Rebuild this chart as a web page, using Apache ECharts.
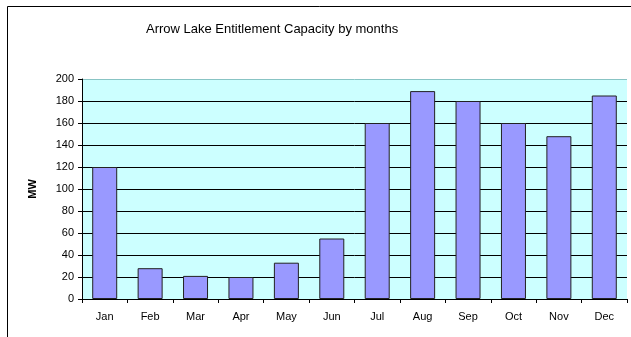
<!DOCTYPE html>
<html><head><meta charset="utf-8">
<script src="https://cdn.jsdelivr.net/npm/echarts@6/dist/echarts.min.js"></script>
<style>html,body{margin:0;padding:0;background:#fff}#c{width:631px;height:337px}</style>
</head><body><div id="c"></div>
<script>
const categories = ['Jan','Feb','Mar','Apr','May','Jun','Jul','Aug','Sep','Oct','Nov','Dec'];
const capacity = [120, 28, 21, 20, 33, 55, 160, 189, 180, 160, 148, 185];
const titleText = 'Arrow Lake Entitlement Capacity by months';
const yName = 'MW';

const chart = echarts.init(document.getElementById('c'));
const splitColors = ['#000','#000','#000','#000','#000','#000','#000','#000','#000','#000','#88c4c4'];
chart.setOption({
  animation: false,
  textStyle: { fontFamily: 'Liberation Sans, Arial, sans-serif' },
  graphic: [{
    type: 'rect', shape: { x: 7.5, y: 6.5, width: 700, height: 400 },
    style: { fill: 'none', stroke: '#000', lineWidth: 1 }, z: 0
  }],
  title: {
    text: titleText, left: 141, top: 18,
    textStyle: { fontSize: 13, fontWeight: 'normal', color: '#000', fontFamily: 'Liberation Sans, Arial, sans-serif' }
  },
  grid: { left: 82, right: 4, top: 79, bottom: 38, show: true, backgroundColor: '#CCFFFF', borderWidth: 0 },
  xAxis: {
    type: 'category', data: categories,
    axisLine: { lineStyle: { color: '#000', width: 1 } },
    axisTick: { show: true, interval: 0, length: 4, lineStyle: { color: '#000' } },
    axisLabel: { color: '#000', fontSize: 11, margin: 12 }
  },
  yAxis: {
    type: 'value', min: 0, max: 200, interval: 20,
    name: yName, nameLocation: 'middle', nameGap: 44, nameRotate: 90,
    nameTextStyle: { fontWeight: 'bold', fontSize: 11, color: '#000' },
    axisLine: { show: true, lineStyle: { color: '#000' } },
    axisTick: { show: true, length: 4, lineStyle: { color: '#000' } },
    axisLabel: { color: '#000', fontSize: 11, margin: 8 },
    splitLine: { show: true, lineStyle: { color: splitColors, width: 1 } }
  },
  series: [{
    type: 'bar', data: capacity, barWidth: 25,
    itemStyle: { color: '#9999FF', borderColor: '#222', borderWidth: 1 }
  }]
});
</script></body></html>
